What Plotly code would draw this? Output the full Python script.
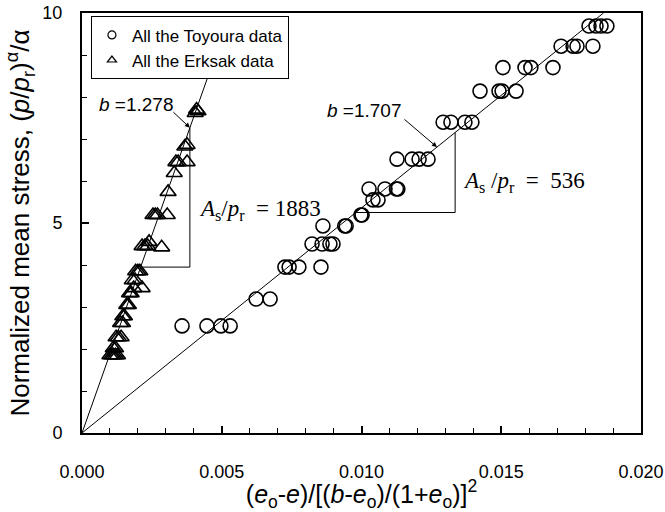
import plotly.graph_objects as go

# ---- Toyoura sand data (x: void-ratio function, y: normalized mean stress)
toyoura_x = [0.00358, 0.00447, 0.00497, 0.00530,
             0.00623, 0.00673,
             0.00726, 0.00741, 0.00776, 0.00855,
             0.00823, 0.00859, 0.00887, 0.00898,
             0.00862, 0.00940, 0.00945,
             0.00998, 0.01002,
             0.01041, 0.01059,
             0.01027, 0.01084, 0.01125, 0.01130,
             0.01127, 0.01181, 0.01206, 0.01238,
             0.01292, 0.01320, 0.01370, 0.01395,
             0.01424, 0.01492, 0.01503, 0.01553,
             0.01506, 0.01585, 0.01606, 0.01685,
             0.01714, 0.01757, 0.01771, 0.01828,
             0.01814, 0.01839, 0.01857, 0.01878]
toyoura_y = [2.55, 2.55, 2.55, 2.55,
             3.19, 3.19,
             3.95, 3.95, 3.95, 3.95,
             4.50, 4.50, 4.50, 4.50,
             4.93, 4.93, 4.93,
             5.19, 5.19,
             5.55, 5.55,
             5.81, 5.81, 5.81, 5.81,
             6.52, 6.52, 6.52, 6.52,
             7.40, 7.40, 7.40, 7.40,
             8.14, 8.14, 8.14, 8.14,
             8.70, 8.70, 8.70, 8.70,
             9.21, 9.21, 9.21, 9.21,
             9.69, 9.69, 9.69, 9.69]

# ---- Erksak sand data
erksak_x = [0.00100, 0.00107, 0.00113, 0.00120, 0.00127,
            0.00112, 0.00120,
            0.00122, 0.00130, 0.00140,
            0.00138, 0.00145,
            0.00146, 0.00152,
            0.00160, 0.00166,
            0.00170, 0.00176,
            0.00185, 0.00215,
            0.00180, 0.00190,
            0.00192, 0.00200, 0.00207,
            0.00215, 0.00225, 0.00235,
            0.00240, 0.00285,
            0.00254, 0.00262, 0.00270, 0.00305,
            0.00308,
            0.00330,
            0.00336, 0.00344, 0.00376,
            0.00368, 0.00376,
            0.00405, 0.00410, 0.00415]
erksak_y = [1.85, 1.85, 1.85, 1.85, 1.85,
            2.02, 2.02,
            2.28, 2.28, 2.28,
            2.62, 2.62,
            2.78, 2.78,
            3.05, 3.05,
            3.33, 3.33,
            3.45, 3.45,
            3.64, 3.64,
            3.85, 3.85, 3.85,
            4.45, 4.45, 4.45,
            4.55, 4.42,
            5.19, 5.19, 5.19, 5.19,
            5.74,
            6.19,
            6.45, 6.45, 6.45,
            6.82, 6.86,
            7.62, 7.70, 7.66]

# ---- fitted slopes (A_s / p_r) and exponents b
slope_toyoura = 536
slope_erksak = 1883
b_toyoura = "1.707"
b_erksak = "1.278"

x_range = [0, 0.02]
y_range = [0, 10]

fig = go.Figure()

# fitted straight lines through the origin
x_end_t = y_range[1] / slope_toyoura
fig.add_trace(go.Scatter(x=[0, x_end_t], y=[0, slope_toyoura * x_end_t], mode="lines",
                         line=dict(color="black", width=1), showlegend=False, hoverinfo="skip"))
x_end_e = 0.0045
fig.add_trace(go.Scatter(x=[0, x_end_e], y=[0, slope_erksak * x_end_e], mode="lines",
                         line=dict(color="black", width=1), showlegend=False, hoverinfo="skip"))

# data markers
fig.add_trace(go.Scatter(x=toyoura_x, y=toyoura_y, mode="markers", showlegend=False,
                         marker=dict(symbol="circle-open", size=14, color="black",
                                     line=dict(width=1.6))))
fig.add_trace(go.Scatter(x=erksak_x, y=erksak_y, mode="markers", showlegend=False,
                         marker=dict(symbol="triangle-up-open", size=14, color="black",
                                     line=dict(width=1.6))))

# legend keys with smaller symbols
fig.add_trace(go.Scatter(x=[None], y=[None], mode="markers", name="All the Toyoura data",
                         marker=dict(symbol="circle-open", size=8, color="black",
                                     line=dict(width=1.2))))
fig.add_trace(go.Scatter(x=[None], y=[None], mode="markers", name="All the Erksak data",
                         marker=dict(symbol="triangle-up-open", size=8, color="black",
                                     line=dict(width=1.2))))

# slope triangles
def slope_triangle(slope, y_base, x_right):
    x_left = y_base / slope
    y_top = slope * x_right
    fig.add_shape(type="line", x0=x_left, y0=y_base, x1=x_right, y1=y_base,
                  line=dict(color="black", width=1))
    fig.add_shape(type="line", x0=x_right, y0=y_base, x1=x_right, y1=y_top,
                  line=dict(color="black", width=1))

slope_triangle(slope_erksak, 3.95, 0.00386)
slope_triangle(slope_toyoura, 5.25, 0.01335)

text_font = dict(family="Arial, Liberation Sans", size=19, color="black")
serif_font = dict(family="Times New Roman, Liberation Serif", size=23, color="black")

# b labels with arrows
fig.add_annotation(x=0.00386, y=slope_erksak * 0.00386, ax=-18, ay=-17, text="",
                   showarrow=True, arrowhead=2, arrowsize=1, arrowwidth=1, arrowcolor="black")
fig.add_annotation(x=0.00195, y=7.81, text="<i>b</i> =" + b_erksak, showarrow=False,
                   font=text_font)
fig.add_annotation(x=0.0127, y=slope_toyoura * 0.0127, ax=-34, ay=-29, text="",
                   showarrow=True, arrowhead=2, arrowsize=1, arrowwidth=1, arrowcolor="black")
fig.add_annotation(x=0.01009, y=7.67, text="<i>b</i> =" + b_toyoura, showarrow=False,
                   font=text_font)

# A_s/p_r labels
fig.add_annotation(x=0.00413, y=5.31, xanchor="left",
                   text="<i>A</i><sub>s</sub>/<i>p</i><sub>r</sub>&nbsp;&nbsp;= " + str(slope_erksak),
                   showarrow=False, font=serif_font)
fig.add_annotation(x=0.01355, y=5.98, xanchor="left",
                   text="<i>A</i><sub>s</sub>&nbsp;/<i>p</i><sub>r</sub>&nbsp;&nbsp;=&nbsp;&nbsp;" + str(slope_toyoura),
                   showarrow=False, font=serif_font)

axis_font = dict(family="Arial, Liberation Sans", size=18, color="black")
x_title_font = dict(family="Arial, Liberation Sans", size=25, color="black")
y_title_font = dict(family="Arial, Liberation Sans", size=26, color="black")

fig.update_xaxes(range=x_range, tickmode="array", tickvals=[0, 0.005, 0.01, 0.015, 0.02],
                 ticktext=["0.000", "0.005", "0.010", "0.015", "0.020"],
                 ticks="inside", ticklen=7, tickwidth=1.5, tickcolor="black",
                 minor=dict(dtick=0.001, ticks="inside", ticklen=5, tickcolor="black", tickwidth=1),
                 showline=True, linecolor="black", linewidth=2, mirror=True,
                 showgrid=False, zeroline=False, tickfont=axis_font, ticklabelstandoff=21,
                 automargin=False,
                 title=dict(text="(<i>e</i><sub>o</sub>-<i>e</i>)/[(<i>b</i>-<i>e</i><sub>o</sub>)/(1+<i>e</i><sub>o</sub>)]<sup>2</sup>",
                            font=x_title_font, standoff=5))
fig.update_yaxes(range=y_range, tickmode="array", tickvals=[0, 5, 10],
                 ticks="inside", ticklen=7, tickwidth=1.5, tickcolor="black",
                 minor=dict(dtick=1, ticks="inside", ticklen=5, tickcolor="black", tickwidth=1),
                 showline=True, linecolor="black", linewidth=2, mirror=True,
                 showgrid=False, zeroline=False, tickfont=axis_font, ticklabelstandoff=14,
                 automargin=False,
                 title=dict(text="Normalized mean stress, (<i>p</i>/<i>p</i><sub>r</sub>)<sup>α</sup>/α",
                            font=y_title_font, standoff=5))

fig.update_layout(
    width=665, height=512,
    margin=dict(l=82, r=24, t=13, b=79),
    plot_bgcolor="white", paper_bgcolor="white",
    showlegend=True,
    legend=dict(x=0.016, y=0.992, xanchor="left", yanchor="top",
                bordercolor="black", borderwidth=1, bgcolor="white",
                font=dict(family="Arial, Liberation Sans", size=17, color="black"),
                itemsizing="trace", itemwidth=30, tracegroupgap=0),
)

fig.write_html("out.html")
